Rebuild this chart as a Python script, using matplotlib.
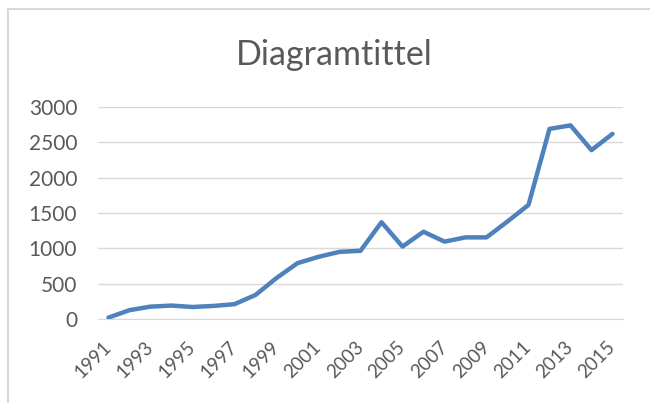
import numpy as np
import matplotlib.pyplot as plt
import matplotlib.transforms as mtransforms
from matplotlib.lines import Line2D

# Values
years = list(range(1991, 2016))
values = [20, 125, 175, 190, 170, 185, 210, 340, 580, 790, 880, 950, 965,
          1370, 1025, 1235, 1095, 1155, 1155, 1380, 1615, 2690, 2740, 2390, 2620]
y_ticks = [0, 500, 1000, 1500, 2000, 2500, 3000]
title = "Diagramtittel"

plt.rcParams['font.family'] = ['Lato', 'DejaVu Sans']
plt.rcParams['xtick.major.size'] = 0
plt.rcParams['ytick.major.size'] = 0
plt.rcParams['xtick.major.pad'] = 14
plt.rcParams['ytick.major.pad'] = 15
text_color = "#595959"

W, H = 650, 403
fig = plt.figure(figsize=(W / 100, H / 100), dpi=100)
fig.patch.set_facecolor("white")

# plot area in pixels: x 98..623, y 107..319
ax = fig.add_axes([98 / W, 1 - 319 / H, (623 - 98) / W, (319 - 107) / H])

x = np.arange(len(years))
ax.plot(x, values, color="#4F81BD", linewidth=3.2, solid_joinstyle="round",
        solid_capstyle="round", zorder=3)

ax.set_xlim(-0.5, len(years) - 0.5)
ax.set_ylim(0, 3000)
ax.set_yticks(y_ticks)
ax.set_yticklabels([str(v) for v in y_ticks], fontsize=15, color=text_color)
ax.set_xticks(x[::2])
ax.set_xticklabels([str(y) for y in years[::2]], rotation=45, ha="right",
                   rotation_mode="anchor", fontsize=13.5, color=text_color)

# move the rotated year labels a bit left so they sit under their ticks
shift = mtransforms.ScaledTranslation(-6 / 100, 0, fig.dpi_scale_trans)
for lab in ax.get_xticklabels():
    lab.set_transform(lab.get_transform() + shift)

ax.grid(axis="y", color="#D9D9D9", linewidth=1.0)
ax.set_axisbelow(True)
for s in ["top", "right", "left"]:
    ax.spines[s].set_visible(False)
ax.spines["bottom"].set_color("#D9D9D9")

fig.text(334 / W, 1 - 65 / H, title, ha="center", va="baseline",
         fontsize=24.5, color=text_color)

# chart border visible on the left and top edges
fig.add_artist(Line2D([8 / W, 8 / W], [0, 1 - 9 / H], transform=fig.transFigure,
                      color="#D9D9D9", linewidth=1.5))
fig.add_artist(Line2D([8 / W, 1], [1 - 9 / H, 1 - 9 / H], transform=fig.transFigure,
                      color="#D9D9D9", linewidth=1.5))

fig.savefig("out.png", dpi=100)
